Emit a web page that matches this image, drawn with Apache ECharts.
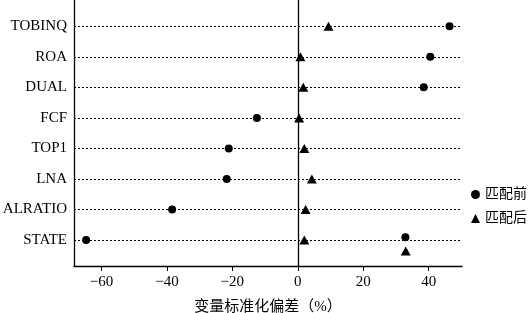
<!DOCTYPE html>
<html>
<head>
<meta charset="utf-8">
<script src="https://cdn.jsdelivr.net/npm/echarts@6/dist/echarts.min.js"></script>
<style>html,body{margin:0;padding:0;background:#fff;}#c{width:531px;height:313px;}</style>
</head>
<body>
<div id="c"></div>
<script>
const categories = ['STATE', 'ALRATIO', 'LNA', 'TOP1', 'FCF', 'DUAL', 'ROA', 'TOBINQ'];
const beforeValues = [-64.7, -38.4, -21.7, -21.1, -12.5, 38.5, 40.5, 46.4];
const afterValues = [2.0, 2.4, 4.3, 2.0, 0.4, 1.7, 0.8, 9.4];
// extra unlabeled points near the STATE row: [x, row position]
const extraBefore = [[32.9, 0.09]];
const extraAfter = [[33.0, -0.36]];
const xTicks = [-60, -40, -20, 0, 20, 40];
const seriesNames = ['匹配前', '匹配后'];

const rowIdx = categories.map((c, i) => i);
const beforeData = beforeValues.map((v, i) => [v, i]).concat(extraBefore);
const afterData = afterValues.map((v, i) => [v, i]).concat(extraAfter);

const serif = '"Liberation Serif", "Times New Roman", serif';
const cjk = '"Liberation Serif", "Noto Sans CJK SC", serif';

const chart = echarts.init(document.getElementById('c'));
chart.setOption({
  animation: false,
  backgroundColor: '#fff',
  grid: { left: 74, right: 69, top: 0, bottom: 47, containLabel: false, outerBoundsMode: 'none' },
  legend: {
    orient: 'vertical',
    left: 471,
    top: 187,
    padding: 0,
    itemWidth: 9,
    itemHeight: 9,
    itemGap: 9,
    textStyle: { fontFamily: cjk, fontSize: 14, color: '#000', lineHeight: 15 },
    data: [
      { name: seriesNames[0], icon: 'circle', itemStyle: { color: '#000', opacity: 1 } },
      { name: seriesNames[1], icon: 'triangle', itemStyle: { color: '#000', opacity: 1 } }
    ]
  },
  xAxis: {
    type: 'value',
    min: -68.4,
    max: 50.2,
    name: '变量标准化偏差（%）',
    nameLocation: 'middle',
    nameGap: 34,
    nameTextStyle: { fontFamily: cjk, fontSize: 15, color: '#000' },
    axisLine: { show: true, onZero: false, lineStyle: { color: '#000', width: 1.3 } },
    axisTick: { show: true, customValues: xTicks, length: 5, lineStyle: { color: '#000' } },
    axisLabel: {
      customValues: xTicks,
      fontFamily: serif, fontSize: 15, color: '#000', margin: 9,
      formatter: v => String(v).replace('-', '\u2212')
    },
    splitLine: { show: false }
  },
  yAxis: {
    type: 'value',
    min: -0.85,
    max: 7.86,
    axisLine: { show: true, onZero: false, lineStyle: { color: '#000', width: 1.3 } },
    axisTick: { show: false },
    axisLabel: {
      customValues: rowIdx,
      fontFamily: serif, fontSize: 15, color: '#000', margin: 7,
      formatter: v => categories[Math.round(v)]
    },
    splitLine: { show: false }
  },
  series: [
    {
      name: seriesNames[0],
      type: 'scatter',
      symbol: 'circle',
      symbolSize: 8,
      itemStyle: { color: '#000', opacity: 1 },
      data: beforeData,
      z: 3,
      markLine: {
        silent: true,
        symbol: ['none', 'none'],
        label: { show: false },
        animation: false,
        data: rowIdx.map(i => ({ yAxis: i, lineStyle: { type: [2, 2], color: '#000', width: 1 } }))
          .concat([{ xAxis: 0, lineStyle: { type: 'solid', color: '#000', width: 1.3 } }])
      }
    },
    {
      name: seriesNames[1],
      type: 'scatter',
      symbol: 'triangle',
      symbolSize: [10, 9],
      itemStyle: { color: '#000', opacity: 1 },
      data: afterData,
      z: 3
    }
  ]
});
</script>
</body>
</html>
